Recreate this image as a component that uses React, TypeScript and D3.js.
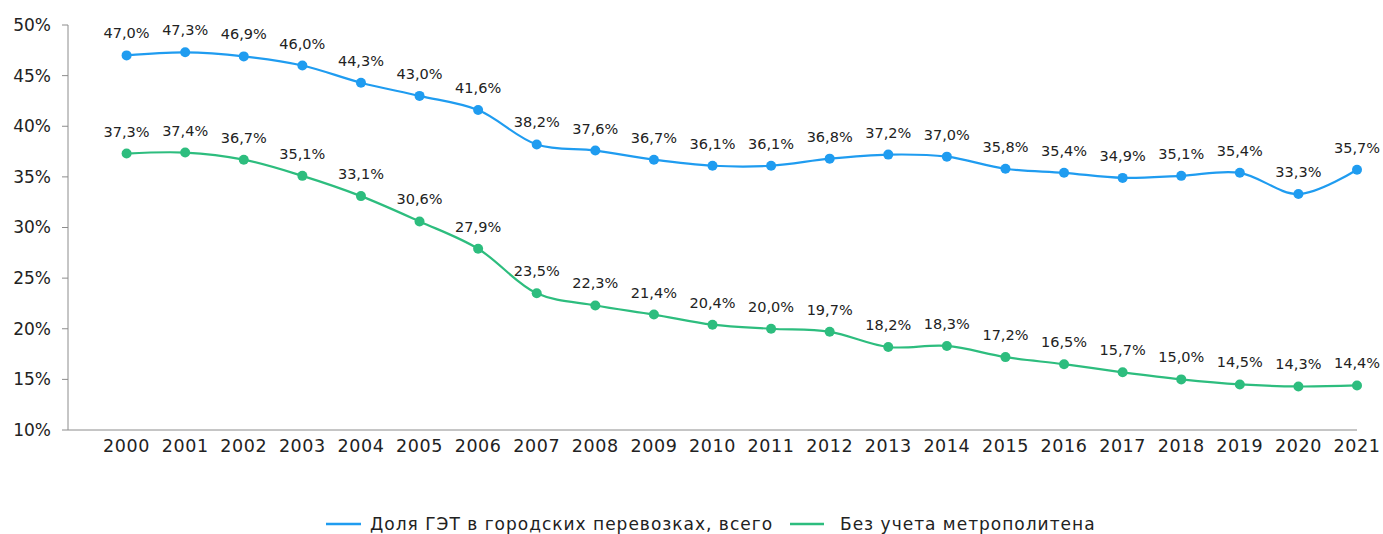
import React from "react";
import * as d3 from "d3";

const years = [2000,2001,2002,2003,2004,2005,2006,2007,2008,2009,2010,2011,2012,2013,2014,2015,2016,2017,2018,2019,2020,2021];
const totalShare = [47.0,47.3,46.9,46.0,44.3,43.0,41.6,38.2,37.6,36.7,36.1,36.1,36.8,37.2,37.0,35.8,35.4,34.9,35.1,35.4,33.3,35.7];
const noMetroShare = [37.3,37.4,36.7,35.1,33.1,30.6,27.9,23.5,22.3,21.4,20.4,20.0,19.7,18.2,18.3,17.2,16.5,15.7,15.0,14.5,14.3,14.4];
const yTicks = [10,15,20,25,30,35,40,45,50];
const seriesNames = ["Доля ГЭТ в городских перевозках, всего", "Без учета метрополитена"];
const colors = ["#1f9cf0", "#2dbd7e"];

const W = 1383, H = 534;
const FONT = "'DejaVu Sans', sans-serif";

export default function App() {
  const x = d3.scaleLinear().domain([1999, 2021]).range([68, 1357]);
  const y = d3.scaleLinear().domain([10, 50]).range([430, 25]);
  const line = d3.line<number>()
    .x((_, i) => x(years[i]))
    .y((v) => y(v))
    .curve(d3.curveCatmullRom.alpha(0.5));
  const fmt = (v: number) => v.toFixed(1).replace(".", ",") + "%";
  const series = [totalShare, noMetroShare];
  return (
    <svg width={W} height={H} style={{ position: "absolute", left: 0, top: 0 }} fontFamily={FONT}>
      <rect width={W} height={H} fill="#fff" />
      <line x1={68} x2={68} y1={y(50)} y2={y(10)} stroke="#8c8c8c" strokeWidth={1} />
      <line x1={68} x2={x(2021)} y1={y(10)} y2={y(10)} stroke="#8c8c8c" strokeWidth={1} />
      {yTicks.map((t) => (
        <g key={t}>
          <line x1={62} x2={68} y1={y(t)} y2={y(t)} stroke="#8c8c8c" />
          <text x={51} y={y(t)} dy="0.35em" textAnchor="end" fontSize={17} fill="#222">{t}%</text>
        </g>
      ))}
      {years.map((yr) => (
        <text key={yr} x={x(yr)} y={452} textAnchor="middle" fontSize={17.5} letterSpacing={0.6} fill="#222">{yr}</text>
      ))}
      {series.map((s, si) => (
        <g key={si}>
          <path d={line(s) || ""} fill="none" stroke={colors[si]} strokeWidth={2.2} />
          {s.map((v, i) => (
            <circle key={i} cx={x(years[i])} cy={y(v)} r={5} fill={colors[si]} />
          ))}
          {s.map((v, i) => (
            <text key={"t" + i} x={x(years[i])} y={y(v) - 17} textAnchor="middle" fontSize={14.5} fill="#222">{fmt(v)}</text>
          ))}
        </g>
      ))}
      <line x1={326} x2={361} y1={524} y2={524} stroke={colors[0]} strokeWidth={2.5} />
      <text x={370} y={524} dy="0.35em" fontSize={17} letterSpacing={1} fill="#222">{seriesNames[0]}</text>
      <line x1={790} x2={824} y1={524} y2={524} stroke={colors[1]} strokeWidth={2.5} />
      <text x={840} y={524} dy="0.35em" fontSize={17} letterSpacing={1} fill="#222">{seriesNames[1]}</text>
    </svg>
  );
}
